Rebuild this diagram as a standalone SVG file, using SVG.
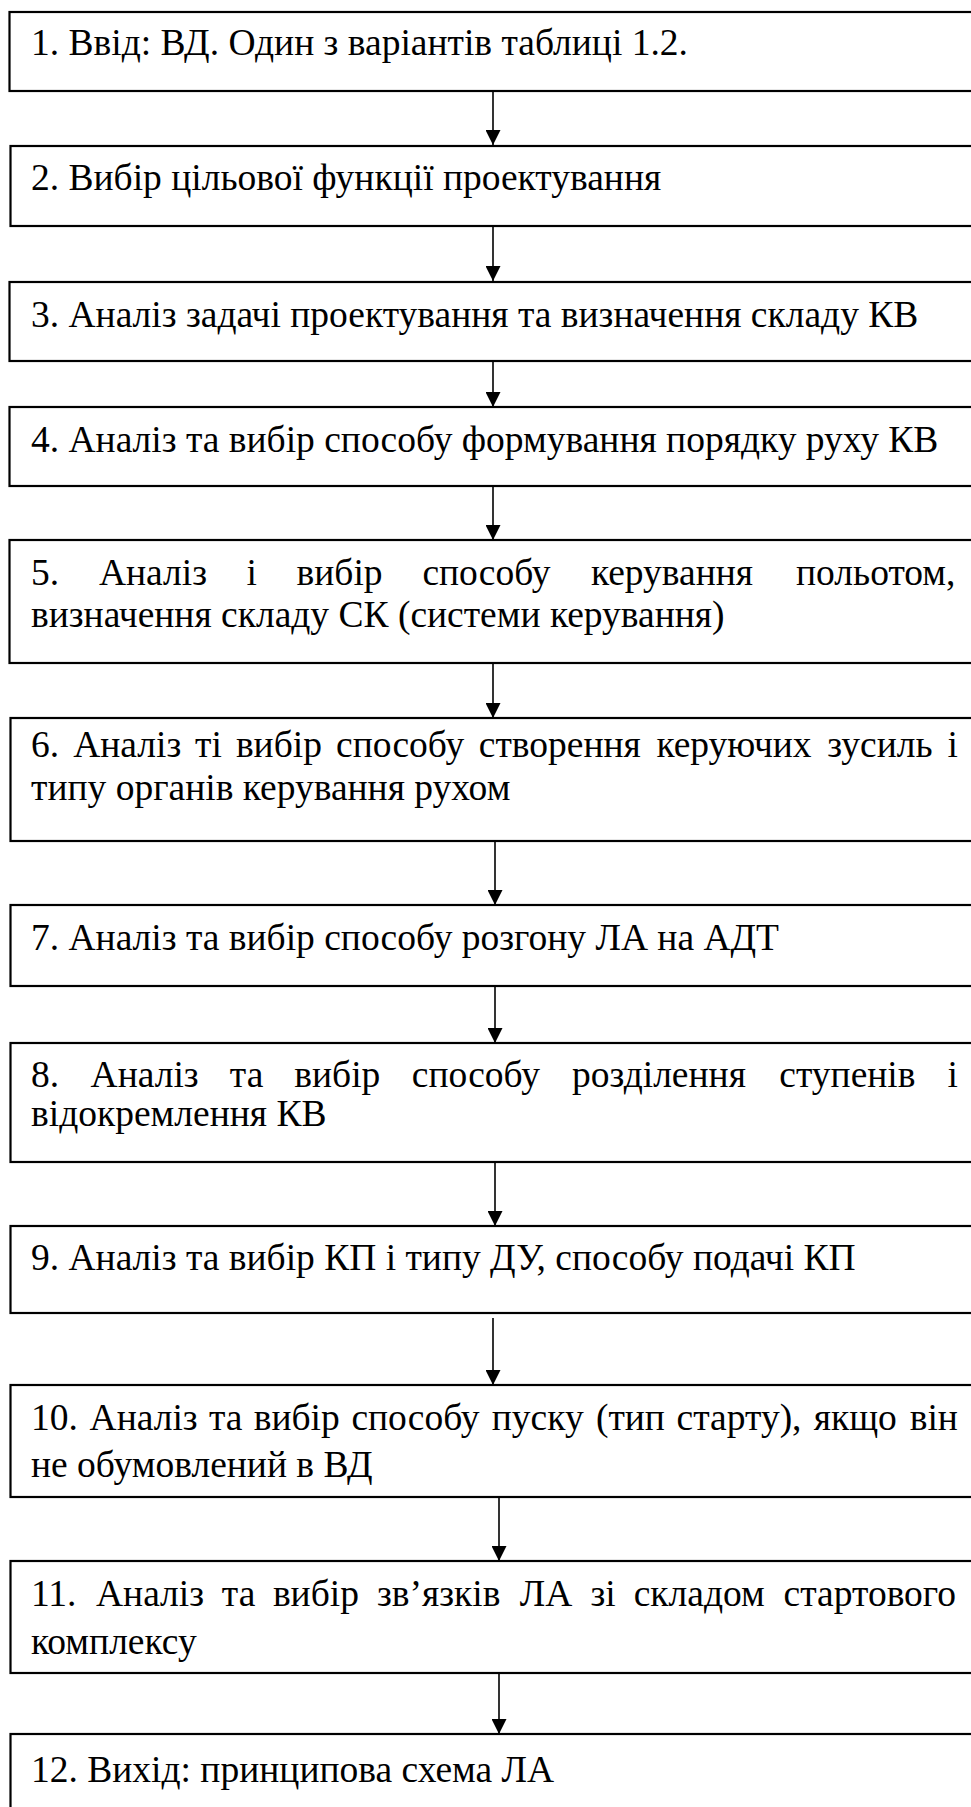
<svg xmlns="http://www.w3.org/2000/svg" width="971" height="1807" viewBox="0 0 971 1807">
<defs>
<style>
.box{fill:#fff;stroke:#000;stroke-width:2.2}
.t{font-family:"Liberation Serif","Times New Roman",serif;font-size:37.5px;fill:#000}
.c{stroke:#000;stroke-width:1.6;fill:none}
</style>
<marker id="ah" viewBox="0 0 10 10" refX="10" refY="5" markerWidth="15" markerHeight="15" markerUnits="userSpaceOnUse" orient="auto">
<path d="M0,0 L10,5 L0,10 Z" fill="#000"/>
</marker>
</defs>
<rect width="971" height="1807" fill="#fff"/>
<g id="connectors">
<line class="c" x1="493" y1="91" x2="493" y2="145" marker-end="url(#ah)"/>
<line class="c" x1="493" y1="226" x2="493" y2="281" marker-end="url(#ah)"/>
<line class="c" x1="493" y1="361" x2="493" y2="407" marker-end="url(#ah)"/>
<line class="c" x1="493" y1="486" x2="493" y2="540" marker-end="url(#ah)"/>
<line class="c" x1="493" y1="663" x2="493" y2="718" marker-end="url(#ah)"/>
<line class="c" x1="495" y1="841" x2="495" y2="905" marker-end="url(#ah)"/>
<line class="c" x1="495" y1="986" x2="495" y2="1043" marker-end="url(#ah)"/>
<line class="c" x1="495" y1="1162" x2="495" y2="1226" marker-end="url(#ah)"/>
<line class="c" x1="493" y1="1318" x2="493" y2="1385" marker-end="url(#ah)"/>
<line class="c" x1="499" y1="1497" x2="499" y2="1561" marker-end="url(#ah)"/>
<line class="c" x1="499" y1="1673" x2="499" y2="1734" marker-end="url(#ah)"/>
</g>
<g id="n1"><rect class="box" x="9.5" y="12" width="975" height="79"/>
<text class="t" x="31" y="55">1. Ввід: ВД. Один з варіантів таблиці 1.2.</text></g>
<g id="n2"><rect class="box" x="10.5" y="146" width="975" height="80"/>
<text class="t" x="31" y="190">2. Вибір цільової функції проектування</text></g>
<g id="n3"><rect class="box" x="9.5" y="282" width="975" height="79"/>
<text class="t" x="31" y="327">3. Аналіз задачі проектування та визначення складу КВ</text></g>
<g id="n4"><rect class="box" x="9.5" y="407" width="975" height="79"/>
<text class="t" x="31" y="452">4. Аналіз та вибір способу формування порядку руху КВ</text></g>
<g id="n5"><rect class="box" x="9.5" y="540" width="975" height="123"/>
<text class="t" y="585"><tspan x="31">5.</tspan><tspan x="98.9">Аналіз</tspan><tspan x="246.4">і</tspan><tspan x="296.6">вибір</tspan><tspan x="422.4">способу</tspan><tspan x="590.9">керування</tspan><tspan x="796">польотом,</tspan></text>
<text class="t" x="31" y="627">визначення складу СК (системи керування)</text></g>
<g id="n6"><rect class="box" x="10.5" y="718" width="975" height="123"/>
<text class="t" y="757"><tspan x="31">6.</tspan><tspan x="73.2">Аналіз</tspan><tspan x="195">ті</tspan><tspan x="235.9">вибір</tspan><tspan x="336">способу</tspan><tspan x="478.8">створення</tspan><tspan x="656.4">керуючих</tspan><tspan x="827.3">зусиль</tspan><tspan x="947.5">і</tspan></text>
<text class="t" x="31" y="800">типу органів керування рухом</text></g>
<g id="n7"><rect class="box" x="10.5" y="905" width="975" height="81"/>
<text class="t" x="31" y="950">7. Аналіз та вибір способу розгону ЛА на АДТ</text></g>
<g id="n8"><rect class="box" x="10.5" y="1043" width="975" height="119"/>
<text class="t" y="1087"><tspan x="31">8.</tspan><tspan x="90.6">Аналіз</tspan><tspan x="229.8">та</tspan><tspan x="294.3">вибір</tspan><tspan x="411.8">способу</tspan><tspan x="572">розділення</tspan><tspan x="779.3">ступенів</tspan><tspan x="947.5">і</tspan></text>
<text class="t" x="31" y="1126">відокремлення КВ</text></g>
<g id="n9"><rect class="box" x="10.5" y="1226" width="975" height="87"/>
<text class="t" x="31" y="1270">9. Аналіз та вибір КП і типу ДУ, способу подачі КП</text></g>
<g id="n10"><rect class="box" x="10.5" y="1385" width="975" height="112"/>
<text class="t" y="1430"><tspan x="31">10.</tspan><tspan x="89.6">Аналіз</tspan><tspan x="209">та</tspan><tspan x="253.7">вибір</tspan><tspan x="351.4">способу</tspan><tspan x="491.8">пуску</tspan><tspan x="595.9">(тип</tspan><tspan x="676.6">старту),</tspan><tspan x="813.7">якщо</tspan><tspan x="909.7">він</tspan></text>
<text class="t" x="31" y="1477">не обумовлений в ВД</text></g>
<g id="n11"><rect class="box" x="10.5" y="1561" width="975" height="112"/>
<text class="t" y="1606"><tspan x="31">11.</tspan><tspan x="96">Аналіз</tspan><tspan x="221.8">та</tspan><tspan x="272.9">вибір</tspan><tspan x="377">зв’язків</tspan><tspan x="519.8">ЛА</tspan><tspan x="590.4">зі</tspan><tspan x="633.7">складом</tspan><tspan x="783.6">стартового</tspan></text>
<text class="t" x="31" y="1654">комплексу</text></g>
<g id="n12"><rect class="box" x="10.5" y="1734" width="975" height="90"/>
<text class="t" x="31" y="1782">12. Вихід: принципова схема ЛА</text></g>
</svg>
